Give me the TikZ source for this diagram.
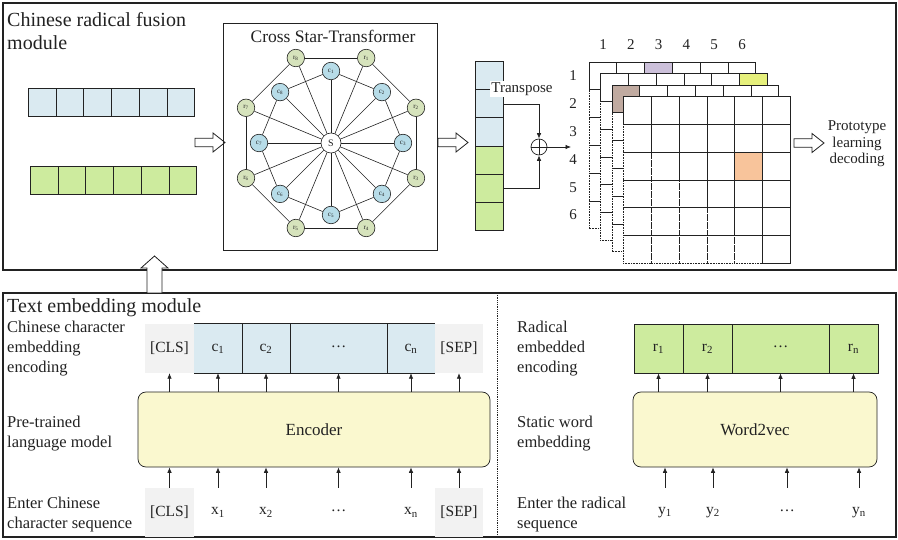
\documentclass[tikz,border=0pt]{standalone}
\usepackage{fontspec}
\setmainfont{Liberation Serif}
\usetikzlibrary{arrows.meta}

\definecolor{cellblue}{HTML}{DAEAF1}
\definecolor{cellgreen}{HTML}{CDEB9E}
\definecolor{nodeblue}{HTML}{B7DCE8}
\definecolor{nodegreen}{HTML}{D6E3BC}
\definecolor{tokgray}{HTML}{F2F2F2}
\definecolor{encyellow}{HTML}{FAF8CF}
\definecolor{hlpurple}{HTML}{CCC0DA}
\definecolor{hlyellow}{HTML}{E6F07C}
\definecolor{hlbrown}{HTML}{C0AAA0}
\definecolor{hlorange}{HTML}{F8C49B}
\definecolor{ink}{HTML}{222222}

\newcommand{\middots}{\raisebox{0.22em}{…}}

\begin{document}
\begin{tikzpicture}[x=1pt,y=-1pt,
  every node/.style={text=ink},
  frame/.style={draw=ink, line width=1.1pt},
  thinline/.style={draw=ink, line width=0.7pt},
  arr/.style={draw=ink, line width=0.7pt, -{Latex[length=5.5pt,width=4.5pt]}},
  titlefont/.style={font=\fontsize{20}{23}\selectfont},
  labelfont/.style={font=\fontsize{16.5}{20}\selectfont},
  tokfont/.style={font=\fontsize{15.5}{18}\selectfont},
  cell/.style={draw=ink, line width=0.7pt, minimum width=27.7pt, minimum height=28pt, inner sep=0pt, anchor=north west},
  snode/.style={circle, draw=ink, line width=0.6pt, minimum size=17.5pt, inner sep=0pt, font=\fontsize{7}{8}\selectfont},
  gridlow/.style={draw=ink, line width=0.6pt, densely dotted},
  gridup/.style={draw=ink, line width=0.7pt},
  tok/.style={inner sep=0pt, minimum height=49pt, tokfont},
  bigbox/.style={draw=ink, line width=0.7pt, rounded corners=8pt, fill=encyellow, minimum height=75pt, font=\fontsize{17}{20}\selectfont},
  hollow arrow/.pic={\draw[draw=ink, line width=0.8pt, fill=white] (0,-4.3) -- (18,-4.3) -- (18,-9.5) -- (30,0) -- (18,9.5) -- (18,4.3) -- (0,4.3) -- cycle;}
]
\useasboundingbox (0,0) rectangle (898,540);

% ---------------- module frames ----------------
\draw[frame] (3,3) rectangle (896,270);
\draw[frame] (3,293) rectangle (896,537);
\draw[draw=ink, line width=0.8pt, densely dotted] (497,293) -- (497,537);

% up arrow between the two modules
\draw[draw=ink, line width=0.8pt, fill=white] (147,293) -- (147,268) -- (141,268) -- (154.5,256) -- (168,268) -- (162,268) -- (162,293) -- cycle;

% ---------------- fusion module ----------------
% multi-line nodes: the base anchor sits on the last line
\node[titlefont, anchor=base west, align=left, inner sep=0pt] (fusiontitle) at (7,50) {Chinese radical fusion\\module};

\foreach \k in {0,...,5} {
  \node[cell, fill=cellblue] (b\k) at ({28+\k*27.7},88) {};
  \node[cell, fill=cellgreen] (g\k) at ({30+\k*27.7},166) {};
}
\pic at (195,142.5) {hollow arrow};

% star-transformer panel
\draw[draw=ink, line width=0.9pt] (223,23) rectangle (437,250);
\node[font=\fontsize{17.5}{20}\selectfont] (cst) at (333,36) {Cross Star-Transformer};

\node[snode, fill=white, minimum size=20pt, font=\fontsize{10}{11}\selectfont] (S) at (331,143) {S};
\foreach \k in {1,...,8} {
  \pgfmathsetmacro\ca{90-45*(\k-1)}
  \pgfmathsetmacro\ra{67.5-45*(\k-1)}
  \node[snode, fill=nodeblue] (c\k) at ({331+72*cos(\ca)},{143-72*sin(\ca)}) {c\textsubscript{\k}};
  \node[snode, fill=nodegreen] (r\k) at ({331+92*cos(\ra)},{143-92*sin(\ra)}) {r\textsubscript{\k}};
}
\foreach \k [evaluate=\k as \n using {int(mod(\k,8)+1)}] in {1,...,8} {
  \draw[draw=ink, line width=0.6pt] (S) -- (c\k);
  \draw[draw=ink, line width=0.6pt] (S) -- (r\k);
  \draw[draw=ink, line width=0.6pt] (c\k) -- (c\n);
  \draw[draw=ink, line width=0.6pt] (r\k) -- (r\n);
}

\pic at (438,142.5) {hollow arrow};

% stacked vector and transpose
\foreach \k in {1,2,3} \node[cell, minimum width=28pt, minimum height=28.2pt, fill=cellblue] (v\k) at (475,{61+(\k-1)*28.2}) {};
\foreach \k in {4,5,6} \node[cell, minimum width=28pt, minimum height=28.2pt, fill=cellgreen] (v\k) at (475,{61+(\k-1)*28.2}) {};
\node[fill=white, inner sep=1pt, font=\fontsize{15}{17}\selectfont] (tr) at (522,89) {Transpose};
\node[circle, draw=ink, line width=0.7pt, minimum size=16pt, inner sep=0pt] (op) at (539,147) {};
\draw[thinline] (op.north) -- (op.south) (op.west) -- (op.east);
\draw[arr] ([yshift=-0.6pt]v2.east) -| (op.north);
\draw[arr] ([yshift=-0.6pt]v5.east) -| (op.south);
\coordinate (opout) at (571,147);
\draw[arr] (op.east) -- (opout);

% pairwise score tables
\foreach \j in {1,...,6} \node[font=\fontsize{15}{17}\selectfont] (col\j) at ({603+(\j-1)*27.8},45) {\j};
\foreach \i in {1,...,6} \node[font=\fontsize{15}{17}\selectfont] (row\i) at (573,{76+(\i-1)*27.8}) {\i};

\foreach \ox/\oy/\hr/\hc/\hcol in {589/62/1/3/hlpurple, 600.5/73.5/1/6/hlyellow, 612/85/1/1/hlbrown, 623.5/96.5/3/5/hlorange} {
  \fill[white] (\ox,\oy) rectangle ++(166.8,166.8);
  \foreach \i in {2,...,6} {
    \foreach \j in {1,...,6} {
      \ifnum\i>\j
        \draw[gridlow] ({\ox+(\j-1)*27.8},{\oy+(\i-1)*27.8}) rectangle ++(27.8,27.8);
      \fi
    }
  }
  \foreach \i in {1,...,6} {
    \foreach \j in {\i,...,6} {
      \draw[gridup] ({\ox+(\j-1)*27.8},{\oy+(\i-1)*27.8}) rectangle ++(27.8,27.8);
    }
  }
  \draw[gridup, fill=\hcol] ({\ox+(\hc-1)*27.8},{\oy+(\hr-1)*27.8}) rectangle ++(27.8,27.8);
}

\pic at (794,143) {hollow arrow};
\node[align=center, font=\fontsize{15}{16.5}\selectfont] (proto) at (857,144) {Prototype\\learning\\decoding};

% ---------------- text embedding module ----------------
\node[titlefont, anchor=base west, inner sep=0pt] (embtitle) at (7,313) {Text embedding module};

\node[labelfont, anchor=base west, align=left, inner sep=0pt] (lab1) at (7,373) {Chinese character\\embedding\\encoding};
\node[labelfont, anchor=base west, align=left, inner sep=0pt] (lab2) at (7,447) {Pre-trained\\language model};
\node[labelfont, anchor=base west, align=left, inner sep=0pt] (lab3) at (7,528) {Enter Chinese\\character sequence};

% character embeddings
\node[tok, fill=tokgray, minimum width=49pt] (tcls) at (169.5,348.5) {[CLS]};
\node[tok, fill=cellblue, minimum width=48pt] (tc1) at (218,348.5) {c\textsubscript{1}};
\node[tok, fill=cellblue, minimum width=48pt] (tc2) at (266,348.5) {c\textsubscript{2}};
\node[tok, fill=cellblue, minimum width=97pt] (tdots) at (338.5,348.5) {\middots};
\node[tok, fill=cellblue, minimum width=48pt] (tcn) at (411,348.5) {c\textsubscript{n}};
\node[tok, fill=tokgray, minimum width=48pt] (tsep) at (459,348.5) {[SEP]};
\draw[thinline] (tc1.north west) -- (tcn.north east) (tc1.south west) -- (tcn.south east);
\foreach \t in {tc1,tc2,tdots} \draw[thinline] (\t.north east) -- (\t.south east);

\node[bigbox, minimum width=352pt] (enc) at (314,429.5) {Encoder};

\node[tok, fill=tokgray, minimum width=49pt] (bcls) at (169.5,512.5) {[CLS]};
\node[tok, minimum width=40pt] (bx1) at (218,512.5) {x\textsubscript{1}};
\node[tok, minimum width=40pt] (bx2) at (266,512.5) {x\textsubscript{2}};
\node[tok, minimum width=40pt] (bdots) at (338.5,512.5) {\middots};
\node[tok, minimum width=40pt] (bxn) at (411,512.5) {x\textsubscript{n}};
\node[tok, fill=tokgray, minimum width=48pt] (bsep) at (459,512.5) {[SEP]};

\foreach \t in {tcls,tc1,tc2,tdots,tcn,tsep} \draw[arr] (enc.north -| \t) -- (\t.south);
\foreach \t in {bcls,bx1,bx2,bdots,bxn,bsep} \draw[arr] (\t.north) -- (enc.south -| \t);

% radical embeddings
\node[labelfont, anchor=base west, align=left, inner sep=0pt] (lab4) at (517,373) {Radical\\embedded\\encoding};
\node[labelfont, anchor=base west, align=left, inner sep=0pt] (lab5) at (517,447) {Static word\\embedding};
\node[labelfont, anchor=base west, align=left, inner sep=0pt] (lab6) at (517,528) {Enter the radical\\sequence};

\node[tok, draw=ink, line width=0.7pt, fill=cellgreen, minimum width=49pt] (rr1) at (658.5,348.5) {r\textsubscript{1}};
\node[tok, draw=ink, line width=0.7pt, fill=cellgreen, minimum width=49pt] (rr2) at (707.5,348.5) {r\textsubscript{2}};
\node[tok, draw=ink, line width=0.7pt, fill=cellgreen, minimum width=97pt] (rrdots) at (780.5,348.5) {\middots};
\node[tok, draw=ink, line width=0.7pt, fill=cellgreen, minimum width=49pt] (rrn) at (853.5,348.5) {r\textsubscript{n}};

\node[bigbox, minimum width=244pt] (w2v) at (755,429.5) {Word2vec};

\node[tok, minimum width=40pt] (y1) at (665,512.5) {y\textsubscript{1}};
\node[tok, minimum width=40pt] (y2) at (713,512.5) {y\textsubscript{2}};
\node[tok, minimum width=40pt] (ydots) at (787,512.5) {\middots};
\node[tok, minimum width=40pt] (yn) at (859,512.5) {y\textsubscript{n}};

\foreach \t in {rr1,rr2,rrdots,rrn} \draw[arr] (w2v.north -| \t) -- (\t.south);
\foreach \t in {y1,y2,ydots,yn} \draw[arr] (\t.north) -- (w2v.south -| \t);

\end{tikzpicture}
\end{document}
